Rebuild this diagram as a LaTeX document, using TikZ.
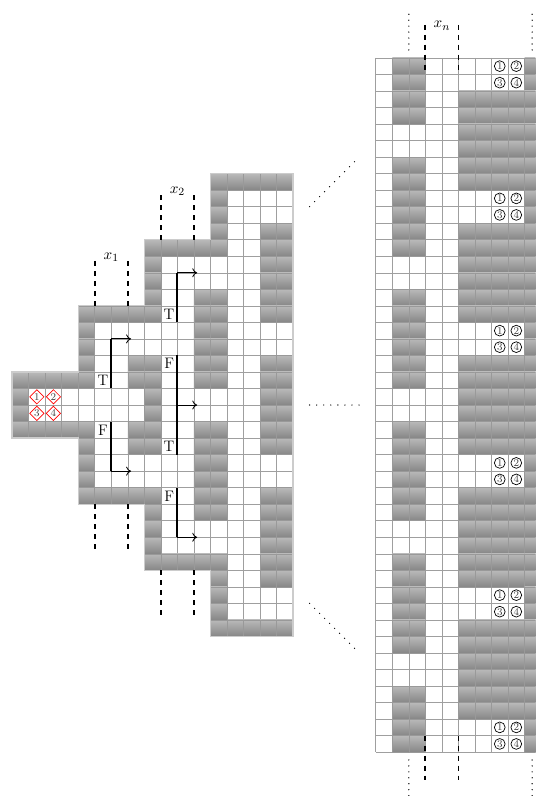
\documentclass[tikz,border=0pt]{standalone}
\usetikzlibrary{arrows.meta,shapes.geometric}

\tikzset{
  wall/.style={top color=gray!55, bottom color=gray!95, draw=gray!80, line width=0.4pt},
  cellgrid/.style={draw=gray!75, line width=0.4pt},
  rim/.style={draw=gray!40, line width=0.9pt},
  wire/.style={line width=1.3pt},
  exitarrow/.style={-{To[length=3.6pt,width=6.5pt]}, line width=0.6pt},
  chan/.style={line width=1.3pt, dash pattern=on 3.6pt off 3.6pt},
  gapdots/.style={line width=1pt, line cap=round, dash pattern=on 0pt off 5.1pt},
  edgedots/.style={line width=1pt, line cap=round, dash pattern=on 0pt off 4.3pt},
  tf/.style={inner sep=0pt, font=\fontsize{11}{13}\selectfont},
  varlabel/.style={font=\fontsize{11}{13}\selectfont},
  redslot/.style={diamond, draw=red, line width=0.5pt, minimum size=10.5pt, inner sep=0pt, font=\fontsize{7.5}{8}\selectfont, text=black!75},
  blackslot/.style={circle, draw, line width=0.5pt, minimum size=7.8pt, inner sep=0pt, font=\fontsize{7.5}{8}\selectfont, text=black!75}
}
\newcommand{\wallcell}[2]{\path[wall] (#1,#2) rectangle ++(1,1);}

\begin{document}
\begin{tikzpicture}[scale=0.42,yscale=-1]
\useasboundingbox (-0.73,-3.5) rectangle (31.66,44.65);
\clip (-0.73,-3.5) rectangle (31.66,44.65);

%Cell grids
\draw[cellgrid] (0,19) grid (4,23);
\draw[cellgrid] (4,15) grid (8,27);
\draw[cellgrid] (8,11) grid (12,31);
\draw[cellgrid] (12,7) grid (17,35);
\draw[cellgrid] (22,0) grid (32,42);

%Start gadget
\foreach \c in {0,...,3} {\wallcell{\c}{19} \wallcell{\c}{22}}
\foreach \r in {20,21} {\wallcell{0}{\r}}

%Gadget x1
\foreach \c in {4,...,7} {\wallcell{\c}{15} \wallcell{\c}{26}}
\foreach \r in {16,17,18,19,22,23,24,25} {\wallcell{4}{\r}}
\foreach \r in {18,19,22,23} {\wallcell{7}{\r}}

%Gadget x2
\foreach \c in {8,...,11} {\wallcell{\c}{11} \wallcell{\c}{30}}
\foreach \r in {12,13,14,15,18,19,20,21,22,23,26,27,28,29} {\wallcell{8}{\r}}
\foreach \r in {14,15,16,17,18,19,22,23,24,25,26,27} {\wallcell{11}{\r}}

%Wide gadget
\foreach \c in {12,...,16} {\wallcell{\c}{7} \wallcell{\c}{34}}
\foreach \r in {8,9,10,11,14,15,16,17,18,19,22,23,24,25,26,27,30,31,32,33} {\wallcell{12}{\r}}
\foreach \r in {10,11,12,13,14,15,18,19,20,21,22,23,26,27,28,29,30,31} {\wallcell{15}{\r} \wallcell{16}{\r}}

%Outline of the left part
\draw[rim] (0,19) -- (4,19) -- (4,15) -- (8,15) -- (8,11) -- (12,11) -- (12,7) -- (17,7)
  -- (17,35) -- (12,35) -- (12,31) -- (8,31) -- (8,27) -- (4,27) -- (4,23) -- (0,23) -- cycle;

%Gadget xn
\foreach \r in {0,...,41} {
  \pgfmathtruncatemacro\m{mod(\r,8)}
  \ifnum\m=4 \else\ifnum\m=5 \else \wallcell{23}{\r}\wallcell{24}{\r}\fi\fi
  \ifnum\m<2 \wallcell{31}{\r}\else \foreach \c in {27,...,31} {\wallcell{\c}{\r}}\fi
}

%Slots
\node[redslot] (d1) at (1.5,20.5) {1};
\node[redslot] (d2) at (2.5,20.5) {2};
\node[redslot] (d3) at (1.5,21.5) {3};
\node[redslot] (d4) at (2.5,21.5) {4};
\foreach \k in {0,...,5} {
  \pgfmathtruncatemacro\b{8*\k}
  \node[blackslot] (s\k-1) at (29.5,\b+0.5) {1};
  \node[blackslot] (s\k-2) at (30.5,\b+0.5) {2};
  \node[blackslot] (s\k-3) at (29.5,\b+1.5) {3};
  \node[blackslot] (s\k-4) at (30.5,\b+1.5) {4};
}

%Wires x1
\draw[wire] (6,17) -- (6,20);
\draw[exitarrow] (6,17) -- (7.2,17);
\draw[wire] (6,22) -- (6,25);
\draw[exitarrow] (6,25) -- (7.2,25);
\node[tf] (t1) at (5.5,19.5) {T};
\node[tf] (f1) at (5.5,22.5) {F};

%Wires x2
\draw[wire] (10,13) -- (10,16);
\draw[exitarrow] (10,13) -- (11.2,13);
\draw[wire] (10,18) -- (10,24);
\draw[exitarrow] (10,21) -- (11.2,21);
\draw[wire] (10,26) -- (10,29);
\draw[exitarrow] (10,29) -- (11.2,29);
\node[tf] (t2) at (9.5,15.5) {T};
\node[tf] (f2) at (9.5,18.5) {F};
\node[tf] (t3) at (9.5,23.5) {T};
\node[tf] (f3) at (9.5,26.5) {F};

%Variable channels
\foreach \c in {5,7} {
  \draw[chan] (\c,15) -- (\c,12);
  \draw[chan] (\c,27) -- (\c,30);
}
\foreach \c in {9,11} {
  \draw[chan] (\c,11) -- (\c,8);
  \draw[chan] (\c,31) -- (\c,34);
}
\foreach \c in {25,27} {
  \draw[chan] (\c,-2) -- (\c,1);
  \draw[chan] (\c,41) -- (\c,44);
}
\node[varlabel] (x1) at (6,12.05) {$x_1$};
\node[varlabel] (x2) at (10,8.05) {$x_2$};
\node[varlabel] (xn) at (26,-1.95) {$x_n$};

%Dots
\foreach \c in {24,31.46} {
  \draw[edgedots] (\c,-0.48) -- (\c,-2.7);
  \draw[edgedots] (\c,42.47) -- (\c,44.9);
}
\draw[gapdots] (18,9) -- (21,6);
\draw[gapdots] (18,21) -- (21,21);
\draw[gapdots] (18,33) -- (21,36);

\end{tikzpicture}
\end{document}
